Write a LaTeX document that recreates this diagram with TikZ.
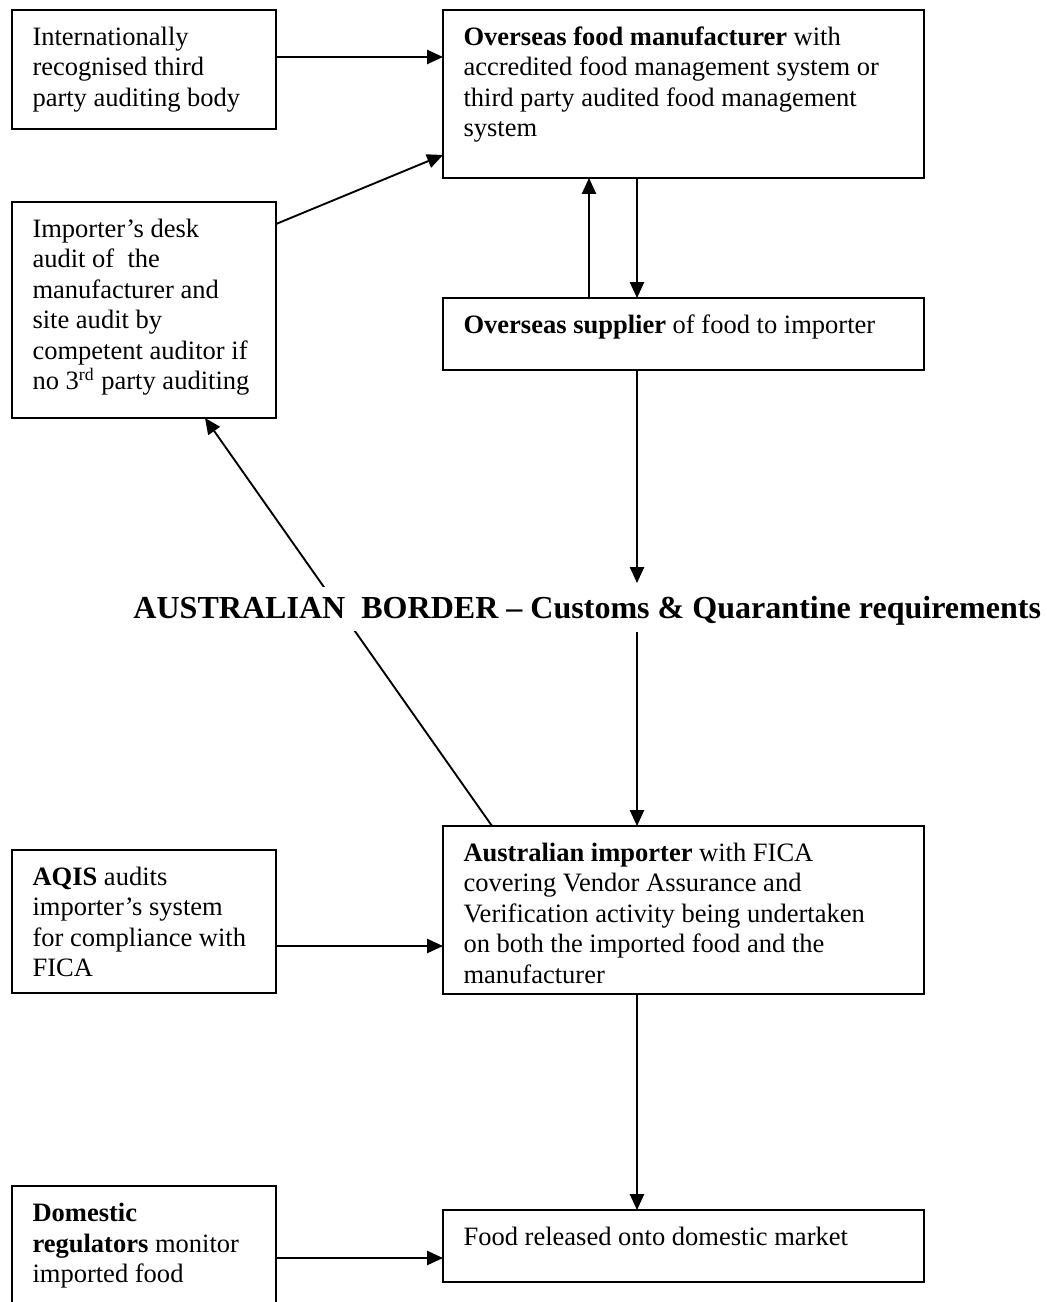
\documentclass[tikz,border=0pt]{standalone}
\usepackage{fontspec}
\setmainfont{Liberation Serif}
\usetikzlibrary{arrows.meta}
\newdimen\pxu \pxu=0.4525pt
\newcommand\bxt[3]{\parbox[t][#2\pxu][t]{#1\pxu}{\raggedright\strut #3}}
\begin{document}
\begin{tikzpicture}[x=0.4525pt, y=-0.4525pt,
  font=\fontsize{12}{13.8}\selectfont,
  box/.style={draw, line width=0.85pt, rectangle, inner xsep=9.28pt, inner ysep=6.4pt, outer sep=0pt, anchor=north west},
  arr/.style={line width=0.85pt, -{Triangle[length=7.2pt,width=6.4pt]}},
  ln/.style={line width=0.85pt},
  bordertext/.style={fill=white, inner xsep=0pt, inner ysep=0pt, text height=14.03pt, text depth=5.88pt, anchor=base west, font=\fontsize{14.5}{17}\selectfont\bfseries}]
\clip (0,0) rectangle (1046,1302);
% boxes
\node[box] (b1) at (12,10) {\bxt{223}{90.7}{Internationally\\recognised third\\party auditing body}};
\node[box] (b2) at (443,10) {\bxt{440}{139.7}{\textbf{Overseas food manufacturer} with\\accredited food management system or\\third party audited food management\\system}};
\node[box] (b3) at (12,202) {\bxt{223}{187.7}{Importer's desk\\audit of\ \ the\\manufacturer and\\site audit by\\competent auditor if\\no 3\textsuperscript{rd} party auditing}};
\node[box] (sup) at (443,298) {\bxt{440}{43.7}{\textbf{Overseas supplier} of food to importer}};
\node[box] (imp) at (443,826) {\bxt{440}{139.7}{\textbf{Australian importer} with FICA\\covering Vendor Assurance and\\Verification activity being undertaken\\on both the imported food and the\\manufacturer}};
\node[box] (aqis) at (12,850) {\bxt{223}{114.7}{\textbf{AQIS} audits\\importer's system\\for compliance with\\FICA}};
\node[box] (food) at (443,1210) {\bxt{440}{43.7}{Food released onto domestic market}};
\node[box] (dom) at (12,1186) {\bxt{223}{121.7}{\textbf{Domestic}\\\textbf{regulators} monitor\\imported food}};
% coordinates at the border
\coordinate (c1) at (637,583);
\coordinate (c2) at (637,632);
% connectors
\draw[arr] ([yshift=-47\pxu]b1.north east) -- ([yshift=-47\pxu]b2.north west);
\draw[arr] ([yshift=-22\pxu]b3.north east) -- ([yshift=23\pxu]b2.south west);
\draw[arr] ([xshift=146\pxu]sup.north west) -- ([xshift=146\pxu]b2.south west);
\draw[arr] ([xshift=194\pxu]b2.south west) -- ([xshift=194\pxu]sup.north west);
\draw[arr] ([xshift=194\pxu]sup.south west) -- (c1);
\draw[arr] (c2) -- ([xshift=194\pxu]imp.north west);
\draw[arr] ([xshift=49\pxu]imp.north west) -- ([xshift=193\pxu]b3.south west);
\draw[arr] ([yshift=-96\pxu]aqis.north east) -- ([yshift=-120\pxu]imp.north west);
\draw[arr] ([xshift=194\pxu]imp.south west) -- ([xshift=194\pxu]food.north west);
\draw[arr] ([yshift=-72\pxu]dom.north east) -- ([yshift=-48\pxu]food.north west);
% border label
\node[bordertext] (border) at (133,618) {AUSTRALIAN\ \ BORDER -- Customs \& Quarantine requirements};
\end{tikzpicture}
\end{document}
